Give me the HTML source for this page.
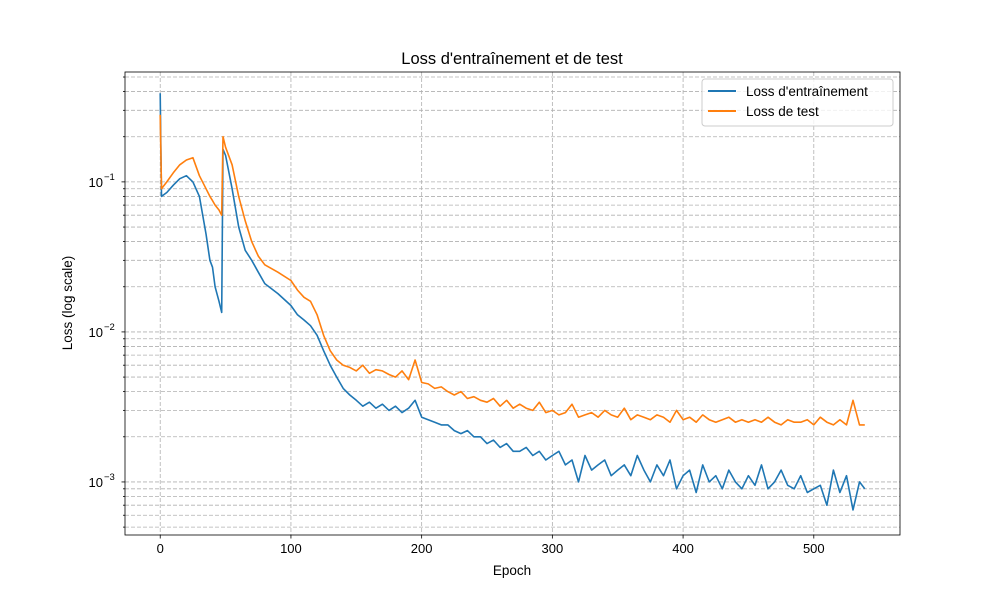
<!DOCTYPE html>
<html><head><meta charset="utf-8"><style>
body{margin:0;background:#fff}
svg text{font-family:"Liberation Sans","DejaVu Sans",sans-serif;fill:#000}
</style></head><body>
<svg id="chart" width="1000" height="600" xmlns="http://www.w3.org/2000/svg">
<rect width="1000" height="600" fill="#fff"/>
<g id="grid"></g><g id="series"></g><g id="axes"></g>
<text x="512" y="64" font-size="16.5" text-anchor="middle">Loss d'entraînement et de test</text>
<text x="512" y="575" font-size="13.5" text-anchor="middle">Epoch</text>
<text x="72" y="303" font-size="13.5" text-anchor="middle" transform="rotate(-90 72 303)">Loss (log scale)</text>
<g>
<rect x="702" y="79" width="191" height="47" rx="3" fill="#fff" fill-opacity="0.8" stroke="#ccc"/>
<line x1="708" y1="91" x2="736" y2="91" stroke="#1f77b4" stroke-width="2"/>
<text x="746" y="96" font-size="13.5">Loss d'entraînement</text>
<line x1="708" y1="111" x2="736" y2="111" stroke="#ff7f0e" stroke-width="2"/>
<text x="746" y="116" font-size="13.5">Loss de test</text>
</g>
</svg>
<script>
const epochs=[0,1,5,10,15,20,25,30,35,38,40,42,45,47,48,50,55,60,65,70,75,80,90,
100,105,110,115,120,125,130,135,140,145,150,155,160,165,170,175,180,185,190,195,200,205,210,215,220,225,230,235,240,245,250,255,260,265,270,275,280,285,290,295,300,305,310,315,320,325,330,335,340,345,350,355,360,365,370,375,380,385,390,395,400,405,410,415,420,425,430,435,440,445,450,455,460,465,470,475,480,485,490,495,500,505,510,515,520,525,530,535,539];
const trainLoss=[.39,.08,.085,.095,.105,.11,.1,.08,.045,.03,.027,.02,.016,.0135,.165,.15,.09,.05,.035,.03,.025,.021,.018,
.015,.013,.012,.011,.0095,.0075,.006,.005,.0042,.0038,.0035,.0032,.0034,.0031,.0033,.003,.0032,.0029,.0031,.0035,.0027,.0026,.0025,.0024,.0024,.0022,.0021,.0022,.002,.002,.0018,.0019,.0017,.0018,.0016,.0016,.0017,.0015,.0016,.0014,.0015,.0016,.0013,.0014,.001,.0015,.0012,.0013,.0014,.0011,.0012,.0013,.0011,.0015,.0012,.001,.0013,.0011,.0014,.0009,.0011,.0012,.00085,.0013,.001,.0011,.0009,.0012,.001,.0009,.0011,.00095,.0013,.0009,.001,.0012,.00095,.0009,.0011,.00085,.0009,.00095,.0007,.0012,.00085,.0011,.00065,.001,.0009];
const testLoss=[.28,.09,.1,.115,.13,.14,.145,.11,.09,.08,.075,.07,.065,.06,.2,.17,.13,.08,.055,.04,.032,.028,.025,
.022,.019,.017,.016,.013,.0095,.0075,.0065,.006,.0058,.0055,.006,.0053,.0056,.0055,.0052,.005,.0055,.0048,.0065,.0046,.0045,.0042,.0043,.004,.0038,.004,.0036,.0037,.0035,.0034,.0036,.0032,.0035,.0031,.0033,.0031,.003,.0034,.0029,.003,.0028,.0029,.0033,.0027,.0028,.0029,.0027,.003,.0028,.0027,.0031,.0026,.0028,.0027,.0026,.0028,.0027,.0025,.003,.0026,.0027,.0025,.0028,.0026,.0025,.0026,.0027,.0025,.0026,.0025,.0026,.0025,.0027,.0025,.0024,.0026,.0025,.0025,.0026,.0024,.0027,.0025,.0024,.0026,.0024,.0035,.0024,.0024];
const xTicks=[0,100,200,300,400,500];
const yMajor=[-1,-2,-3];
const NS="http://www.w3.org/2000/svg";
const L=125,R=900,T=72,B=535;
const xMin=-26.95,xMax=565.95;
const logTop=Math.log10(0.54),logBot=Math.log10(4.43e-4);
function xs(v){return L+(v-xMin)/(xMax-xMin)*(R-L);}
function ys(v){return T+(logTop-Math.log10(v))/(logTop-logBot)*(B-T);}
function mk(tag,attrs,parent){const e=document.createElementNS(NS,tag);for(const k in attrs)e.setAttribute(k,attrs[k]);parent.appendChild(e);return e;}
const grid=document.getElementById('grid'),axes=document.getElementById('axes'),series=document.getElementById('series');
xTicks.forEach(t=>{const x=xs(t);
 const g=mk('line',{x1:x,x2:x,y1:T,y2:B,stroke:'#b0b0b0','stroke-dasharray':'4,2','stroke-width':0.8},grid);
 
 
 mk('line',{x1:x,x2:x,y1:B,y2:B+3.5,stroke:'#000','stroke-width':0.8},axes);
 const tx=mk('text',{x:x,y:B+18,'font-size':13,'text-anchor':'middle'},axes);tx.textContent=t;
 
 
});
for(let d=-4;d<=0;d++){for(let m=1;m<=9;m++){const v=m*Math.pow(10,d);const y=ys(v);if(y<T||y>B)continue;
 const g=mk('line',{x1:L,x2:R,y1:y,y2:y,stroke:'#b0b0b0','stroke-dasharray':'4,2','stroke-width':0.8},grid);
 
 
 mk('line',{x1:L-(m===1?3.5:2),x2:L,y1:y,y2:y,stroke:'#000','stroke-width':0.8},axes);}}
yMajor.forEach(p=>{const y=ys(Math.pow(10,p));
 const tx=mk('text',{x:L-22,y:y+5,'font-size':13,'text-anchor':'end'},axes);tx.textContent='10';
 
 
 const sp=mk('text',{x:L-21,y:y-2,'font-size':9.5},axes);sp.textContent='\u2212'+(-p);
});
const frame=mk('rect',{x:L,y:T,width:R-L,height:B-T,fill:'none',stroke:'#000','stroke-width':0.8},axes);


function line(vals,color,name){const d=vals.map((v,i)=>(i?'L':'M')+xs(epochs[i]).toFixed(1)+','+ys(v).toFixed(1)).join('');
 const p=mk('path',{d:d,fill:'none',stroke:color,'stroke-width':1.6,'stroke-linejoin':'round'},series);
 
 }
line(trainLoss,'#1f77b4','train-loss-line');
line(testLoss,'#ff7f0e','test-loss-line');
</script>
</body></html>
